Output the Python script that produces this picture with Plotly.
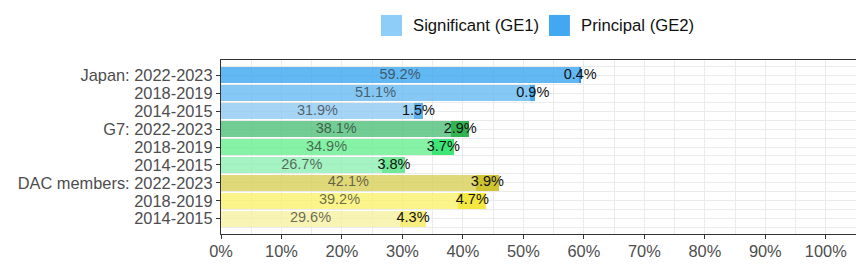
import plotly.graph_objects as go

# rows, top to bottom
rows = ["Japan: 2022-2023", "2018-2019", "2014-2015",
        "G7: 2022-2023", "2018-2019", "2014-2015",
        "DAC members: 2022-2023", "2018-2019", "2014-2015"]
ge1 = [59.2, 51.1, 31.9, 38.1, 34.9, 26.7, 42.1, 39.2, 29.6]
ge2 = [0.4, 0.9, 1.5, 2.9, 3.7, 3.8, 3.9, 4.7, 4.3]
xticks = [0, 10, 20, 30, 40, 50, 60, 70, 80, 90, 100]

# colours as they look on white (bars are slightly transparent)
ge1Colors = ["#62b8f2", "#85c8f5", "#a5d4f5",
             "#72cd94", "#86f2a6", "#a5f3c2",
             "#e0d97a", "#fbf48a", "#f8f4b4"]
ge2Colors = ["#1a8de6", "#46aaf0", "#62b0ea",
             "#22b450", "#3ee678", "#70e898",
             "#d0c42a", "#f5e842", "#f6ee7f"]

ALPHA = 0.8

def seeThrough(hx, a=ALPHA):
	c = [int(hx[i:i + 2], 16) for i in (1, 3, 5)]
	c = [max(0, min(255, round((v - (1 - a) * 255) / a))) for v in c]
	return "rgba(%d, %d, %d, %.2f)" % (c[0], c[1], c[2], a)

n = len(rows)
pos = [n - i for i in range(n)]
FONT = "Liberation Sans, Arial, sans-serif"

fig = go.Figure()
fig.add_trace(go.Bar(
	y=pos, x=[v / 100 for v in ge1], orientation="h", width=0.9,
	marker=dict(color=[seeThrough(c) for c in ge1Colors], line=dict(width=0)),
	name="Significant (GE1)", showlegend=False, hoverinfo="x+name"
))
fig.add_trace(go.Bar(
	y=pos, x=[v / 100 for v in ge2], orientation="h", width=0.9,
	marker=dict(color=[seeThrough(c) for c in ge2Colors], line=dict(width=0)),
	name="Principal (GE2)", showlegend=False, hoverinfo="x+name"
))
fig.add_trace(go.Scatter(
	y=pos, x=[v / 200 for v in ge1], mode="text",
	text=["%.1f%%" % v for v in ge1],
	textfont=dict(family=FONT, size=14.5, color="rgba(45, 45, 45, 0.7)"),
	showlegend=False, hoverinfo="skip"
))
fig.add_trace(go.Scatter(
	y=pos, x=[(a + b / 2) / 100 for a, b in zip(ge1, ge2)], mode="text",
	text=["%.1f%%" % v for v in ge2],
	textfont=dict(family=FONT, size=14.5, color="#111111"),
	showlegend=False, hoverinfo="skip"
))

# legend drawn by hand so the keys can be as big as in the original
legendItems = [("Significant (GE1)", "#8ecdf7", 0.252), ("Principal (GE2)", "#42a8f2", 0.5165)]
for label, col, x0 in legendItems:
	fig.add_shape(type="rect", xref="paper", yref="paper",
		x0=x0, x1=x0 + 0.033, y0=1.138, y1=1.259,
		fillcolor=col, line=dict(width=0))
	fig.add_annotation(xref="paper", yref="paper", x=x0 + 0.047, y=1.197,
		text=label, showarrow=False, xanchor="left", yanchor="middle",
		font=dict(family=FONT, size=16.7, color="#111111"))

fig.update_xaxes(
	range=[0, 1.05],
	tickvals=[v / 100 for v in xticks],
	ticktext=["%d%%" % v for v in xticks],
	ticks="outside", ticklen=4, tickcolor="#333333", tickwidth=1,
	tickfont=dict(family=FONT, size=16.4, color="#4d4d4d"),
	ticklabelstandoff=-2,
	showgrid=True, gridcolor="#ebebeb", gridwidth=1,
	minor=dict(tickvals=[(v + 5) / 100 for v in xticks], showgrid=True,
	           gridcolor="#ebebeb", gridwidth=0.6, ticks=""),
	showline=True, mirror=True, linecolor="#333333", linewidth=1.2,
	zeroline=False, fixedrange=True
)
fig.update_yaxes(
	range=[0.145, n + 0.855],
	tickvals=pos, ticktext=rows,
	ticks="outside", ticklen=4, tickcolor="#333333", tickwidth=1,
	tickfont=dict(family=FONT, size=16.4, color="#4d4d4d"),
	showgrid=True, gridcolor="#ebebeb", gridwidth=1,
	minor=dict(tickvals=[p + 0.5 for p in range(n + 1)], showgrid=True,
	           gridcolor="#ebebeb", gridwidth=0.6, ticks=""),
	showline=True, mirror=True, linecolor="#333333", linewidth=1.2,
	zeroline=False, fixedrange=True
)
# the page puts the figure 8px in from the top left corner
fig.update_layout(
	barmode="stack",
	width=856, height=256,
	margin=dict(l=213, r=8, t=52, b=30, autoexpand=False),
	plot_bgcolor="white", paper_bgcolor="white",
	font=dict(family=FONT)
)
fig.write_html("out.html")
